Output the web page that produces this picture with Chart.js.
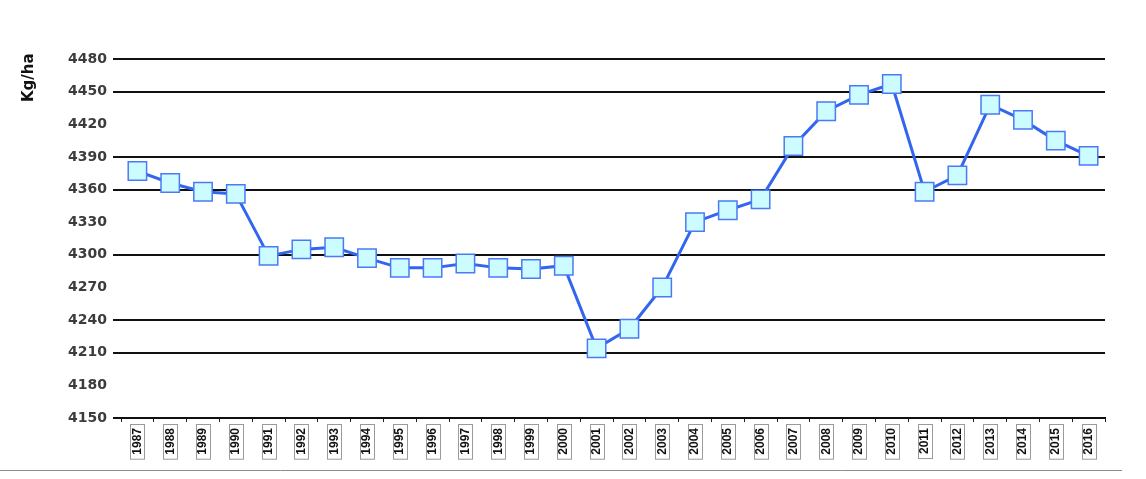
<!DOCTYPE html>
<html>
<head>
<meta charset="utf-8">
<script src="https://cdn.jsdelivr.net/npm/chart.js@4"></script>
<style>
  html, body { margin: 0; padding: 0; background: #fff; }
  #wrap { width: 1146px; height: 479px; position: relative; }
</style>
</head>
<body>
<div id="wrap"><canvas id="chart"></canvas></div>
<script>
const years = [];
for (let y = 1987; y <= 2016; y++) years.push(String(y));

const values = [4377, 4366, 4358, 4356, 4299, 4305, 4307, 4297, 4288, 4288,
  4292, 4288, 4287, 4290, 4214, 4232, 4270, 4330, 4341, 4351,
  4400, 4432, 4447, 4457, 4358, 4373, 4438, 4424, 4405, 4391];

const yMin = 4150;
const yMax = 4480;
const yStep = 30;
// gridlines that are not drawn in the original
const hiddenGrid = [4420, 4330, 4270, 4180];
const yTitle = 'Kg/ha';

// boxes round the year labels, axis title, bottom rule
const decor = {
  id: 'decor',
  afterDraw(chart) {
    const ctx = chart.ctx;
    const xs = chart.scales.x;
    ctx.save();
    ctx.font = 'bold 12px "Liberation Sans"';
    ctx.strokeStyle = '#9a9a9a';
    ctx.lineWidth = 1;
    xs.ticks.forEach((t, i) => {
      const x = Math.round(xs.getPixelForTick(i)) + 0.5;
      const w = ctx.measureText(years[i]).width;
      ctx.strokeRect(x - 7, 424.5, 14, w + 8);
    });
    ctx.strokeStyle = '#8c8c8c';
    ctx.beginPath();
    ctx.moveTo(0, 470.5);
    ctx.lineTo(1122, 470.5);
    ctx.stroke();

    ctx.translate(29, 102);
    ctx.rotate(-Math.PI / 2);
    ctx.font = 'bold 15px "DejaVu Sans"';
    ctx.fillStyle = '#111';
    ctx.textAlign = 'left';
    ctx.textBaseline = 'middle';
    ctx.fillText(yTitle, 0, 0);
    ctx.restore();
  }
};

new Chart(document.getElementById('chart'), {
  type: 'line',
  data: {
    labels: years,
    datasets: [{
      data: values,
      borderColor: '#3366ee',
      borderWidth: 3,
      pointStyle: 'rect',
      pointRadius: 13,
      pointHoverRadius: 13,
      pointBackgroundColor: '#ccfcff',
      pointBorderColor: '#4a7af5',
      pointBorderWidth: 1.5,
      tension: 0
    }]
  },
  options: {
    responsive: true,
    maintainAspectRatio: false,
    animation: false,
    layout: { padding: { top: 59, right: 41, left: 0, bottom: 0 } },
    plugins: {
      legend: { display: false },
      tooltip: { enabled: false }
    },
    scales: {
      y: {
        min: yMin,
        max: yMax,
        afterFit(scale) { scale.width = 121; },
        ticks: {
          stepSize: yStep,
          color: '#3c3c3c',
          font: { family: 'DejaVu Sans', weight: 'bold', size: 14 },
          padding: 6,
          callback: v => String(Math.round(v))
        },
        grid: {
          color: ctx => hiddenGrid.includes(Math.round(ctx.tick.value)) ? 'rgba(0,0,0,0)' : '#111',
          lineWidth: 2,
          tickLength: 8,
          drawTicks: true
        },
        border: { display: false }
      },
      x: {
        offset: true,
        afterFit(scale) { scale.height = 61; },
        ticks: {
          minRotation: 90,
          maxRotation: 90,
          autoSkip: false,
          color: '#111',
          font: { family: 'Liberation Sans', weight: 'bold', size: 12 },
          padding: 6
        },
        grid: {
          display: true,
          drawOnChartArea: false,
          offset: true,
          tickLength: 4,
          color: '#222',
          lineWidth: 1
        },
        border: { display: true, color: '#111', width: 2 }
      }
    }
  },
  plugins: [decor]
});
</script>
</body>
</html>
